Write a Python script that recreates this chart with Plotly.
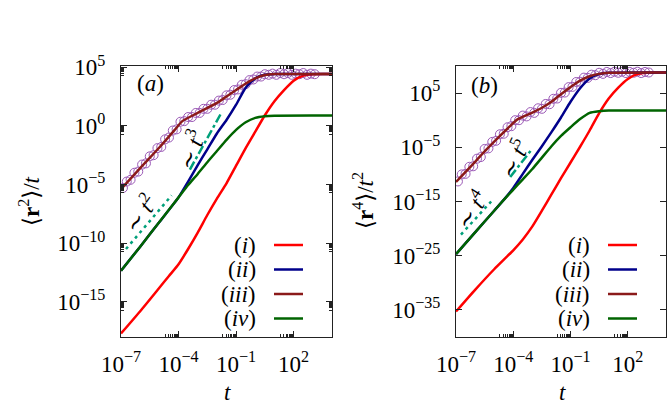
import plotly.graph_objects as go

# values are log10 exponents: t and the plotted moment
# panel (a): <r^2>/t
a_red_lt = [-7, -6, -5, -4.5, -4, -3.5, -3, -2.5, -2, -1.5, -1, -0.5, 0, 0.5, 1, 1.5, 2, 2.5, 3, 4]
a_red_ly = [-17.7, -15.8, -13.8, -12.8, -11.8, -10.5, -9.1, -7.6, -6.2, -4.9, -3.4, -1.9, -0.5, 0.9, 2.1, 3.05, 3.85, 4.28, 4.4, 4.41]
a_blue_lt = [-7, -6, -5, -4, -3.5, -3, -2.5, -2, -1.5, -1, -0.5, 0, 0.5, 1, 4]
a_blue_ly = [-12.35, -10.3, -8.2, -6.1, -4.75, -3.35, -2.0, -0.65, 0.5, 1.8, 3.25, 4.05, 4.35, 4.41, 4.41]
a_maroon_lt = [-7, -6, -5, -4.2, -3.8, -3, -2, -1.5, -1, -0.5, 0, 0.5, 1, 4]
a_maroon_ly = [-5.4, -3.6, -1.85, -0.35, 0.4, 1.1, 1.95, 2.5, 3.05, 3.6, 4.05, 4.33, 4.41, 4.41]
a_green_lt = [-7, -6, -5, -4, -3.5, -3, -2.5, -2, -1.5, -1, -0.5, 0, 0.5, 1, 4]
a_green_ly = [-12.35, -10.3, -8.2, -6.1, -5.05, -4.1, -3.1, -2.15, -1.2, -0.35, 0.3, 0.68, 0.82, 0.86, 0.87]

sim_lt = [-6.9, -6.7, -6.5, -6.3, -6.1, -5.9, -5.7, -5.5, -5.3, -5.1, -4.9, -4.7, -4.5, -4.3, -4.1,
          -3.9, -3.7, -3.5, -3.3, -3.1, -2.9, -2.7, -2.5, -2.3, -2.1, -1.9, -1.7, -1.5, -1.3, -1.1,
          -0.9, -0.7, -0.5, -0.3, -0.1, 0.1, 0.3, 0.5, 0.7, 0.9, 1.1, 1.3, 1.5, 1.7, 1.9, 2.1, 2.3,
          2.5, 2.7, 2.9, 3.1]
a_sim_ly = [-5.3, -4.75, -4.6, -4.0, -3.9, -3.3, -3.2, -2.6, -2.5, -1.9, -1.8, -1.15, -1.0, -0.4, -0.3,
            0.35, 0.4, 0.75, 0.75, 1.1, 1.1, 1.45, 1.45, 1.8, 1.8, 2.15, 2.2, 2.6, 2.65, 3.05,
            3.1, 3.5, 3.55, 3.9, 3.95, 4.2, 4.2, 4.4, 4.35, 4.45, 4.35, 4.5, 4.4, 4.5, 4.35, 4.45, 4.4,
            4.5, 4.35, 4.45, 4.4]

a_t2_lt, a_t2_ly = [-6.74, -4.36], [-10.5, -5.93]
a_t3_lt, a_t3_ly = [-3.41, -1.74], [-3.73, 1.19]

# panel (b): <r^4>/t^2
b_red_lt = [-7, -6, -5, -4, -3.5, -3, -2.5, -2, -1.5, -1, -0.5, 0, 0.5, 1, 1.5, 2, 2.5, 3, 4]
b_red_ly = [-35.3, -31.3, -27.5, -24.0, -22.0, -19.6, -16.7, -13.7, -10.7, -7.8, -4.9, -1.9, 1.3, 4.0, 6.0, 7.6, 8.5, 8.75, 8.8]
b_blue_lt = [-7, -6, -5, -4.5, -4, -3.5, -3, -2.5, -2, -1.5, -1, -0.5, 0, 0.5, 1, 4]
b_blue_ly = [-24.7, -20.7, -16.7, -14.7, -12.5, -9.9, -7.3, -4.8, -2.2, 0.5, 3.4, 5.9, 7.7, 8.5, 8.75, 8.8]
b_maroon_lt = [-7, -6, -5.5, -5, -4.2, -3.8, -3, -2.5, -2, -1.5, -1, -0.5, 0, 0.5, 1, 4]
b_maroon_ly = [-11.4, -7.7, -5.75, -3.95, -1.2, 0.1, 1.4, 2.3, 3.4, 4.8, 6.1, 7.3, 8.1, 8.55, 8.75, 8.8]
b_green_lt = [-7, -6, -5, -4.5, -4, -3.5, -3, -2.5, -2, -1.5, -1, -0.5, 0, 0.5, 1, 4]
b_green_ly = [-24.7, -20.7, -16.7, -14.7, -12.8, -10.9, -9.0, -6.9, -4.8, -2.9, -1.3, 0.2, 1.35, 1.65, 1.78, 1.8]

b_sim_ly = [-11.3, -10.0, -9.9, -8.6, -8.5, -7.1, -6.8, -5.3, -5.2, -4.0, -3.8, -2.6, -2.5, -1.3, -1.1,
            0.0, 0.0, 0.85, 0.7, 1.5, 1.35, 2.2, 2.1, 3.0, 2.95, 3.95, 4.0, 5.05, 5.1, 6.1,
            6.15, 7.05, 7.1, 7.85, 7.8, 8.4, 8.3, 8.75, 8.55, 8.9, 8.7, 8.95, 8.75, 8.95, 8.7, 8.9, 8.75,
            8.95, 8.7, 8.9, 8.8]

b_t4_lt, b_t4_ly = [-6.74, -5.16], [-21.1, -15.0]
b_t5_lt, b_t5_ly = [-4.16, -3.0], [-10.47, -5.24]

labels = ["(<i>i</i>)", "(<i>ii</i>)", "(<i>iii</i>)", "(<i>iv</i>)"]
colors = ["#ff0000", "#00008b", "#8b1a1a", "#006400"]
guide_color = "#00a07a"
sim_color = "#9b59b6"
FONT = "Liberation Serif, DejaVu Serif, serif"
W, H = 672, 416


def p(v):
    return [10 ** x for x in v]


def fx(px):
    return px / W


def fy(py):
    return 1 - py / H


fig = go.Figure()

panels = [
    ("x", "y", [(a_red_lt, a_red_ly), (a_blue_lt, a_blue_ly), (a_maroon_lt, a_maroon_ly), (a_green_lt, a_green_ly)],
     a_sim_ly, [(a_t2_lt, a_t2_ly, "dot"), (a_t3_lt, a_t3_ly, "dashdot")]),
    ("x2", "y2", [(b_red_lt, b_red_ly), (b_blue_lt, b_blue_ly), (b_maroon_lt, b_maroon_ly), (b_green_lt, b_green_ly)],
     b_sim_ly, [(b_t4_lt, b_t4_ly, "dot"), (b_t5_lt, b_t5_ly, "dashdot")]),
]

for xa, ya, curves, sim_ly, guides in panels:
    fig.add_trace(go.Scatter(x=p(sim_lt), y=p(sim_ly), xaxis=xa, yaxis=ya, mode="markers",
                             marker=dict(symbol="circle-open", size=9, color=sim_color, line=dict(width=1)),
                             showlegend=False))
    for (lt, ly), c in zip(curves, colors):
        fig.add_trace(go.Scatter(x=p(lt), y=p(ly), xaxis=xa, yaxis=ya, mode="lines",
                                 line=dict(color=c, width=2.5, shape="spline", smoothing=0.6),
                                 showlegend=False))
    for lt, ly, dash in guides:
        fig.add_trace(go.Scatter(x=p(lt), y=p(ly), xaxis=xa, yaxis=ya, mode="lines",
                                 line=dict(color=guide_color, width=2.5,
                                           dash="3px,4px" if dash == "dot" else "9px,3px,3px,3px"),
                                 showlegend=False))

xt = [-7, -4, -1, 2]
xminor = [k * 10 ** (m - 1) for m in xt + [5] for k in range(2, 10) if m - 1 >= -7 and k * 10 ** (m - 1) <= 1e4]
ya_t = [5, 0, -5, -10, -15]
yminor = [k * 10 ** (m - 1) for m in ya_t for k in range(2, 10)]
yb_t = [5, -5, -15, -25, -35]


def sup(e):
    return "10<sup>%s</sup>" % str(e).replace("-", "−")


common = dict(type="log", showline=True, linecolor="#222", linewidth=1, mirror="ticks",
              ticks="inside", ticklen=6, tickcolor="#222", showgrid=False, zeroline=False,
              tickfont=dict(family=FONT, size=23, color="black"), automargin=False)

fig.update_layout(
    width=W, height=H, margin=dict(l=0, r=0, t=0, b=0),
    paper_bgcolor="white", plot_bgcolor="white", showlegend=False,
    xaxis=dict(common, domain=[fx(121), fx(332)], range=[-7, 4], anchor="y",
               tickvals=p(xt), ticktext=[sup(v) for v in xt], ticklabelstandoff=6,
               minor=dict(tickvals=xminor, ticks="inside", ticklen=3, tickcolor="#222")),
    yaxis=dict(common, domain=[fy(337), fy(66)], range=[-18, 5.1], anchor="x",
               tickvals=p(ya_t), ticktext=[sup(v) for v in ya_t], ticklabelstandoff=10,
               minor=dict(tickvals=yminor, ticks="inside", ticklen=3, tickcolor="#222")),
    xaxis2=dict(common, domain=[fx(456), fx(666)], range=[-7, 4], anchor="y2",
                tickvals=p(xt), ticktext=[sup(v) for v in xt], ticklabelstandoff=6,
                minor=dict(tickvals=xminor, ticks="inside", ticklen=3, tickcolor="#222")),
    yaxis2=dict(common, domain=[fy(337), fy(66)], range=[-40, 10], anchor="x2",
                tickvals=p(yb_t), ticktext=[sup(v) for v in yb_t], ticklabelstandoff=10),
)

ann = []
shapes = []
f = dict(family=FONT, size=23, color="black")
# axis titles and panel tags
ann.append(dict(x=fx(30), y=fy(201), text="⟨<b>r</b><sup>2</sup>⟩/<i>t</i>", textangle=-90))
ann.append(dict(x=fx(364), y=fy(201), text="⟨<b>r</b><sup>4</sup>⟩/<i>t</i><sup>2</sup>", textangle=-90))
ann.append(dict(x=fx(227), y=fy(392), text="<i>t</i>"))
ann.append(dict(x=fx(562), y=fy(392), text="<i>t</i>"))
ann.append(dict(x=fx(150), y=fy(83), text="(<i>a</i>)"))
ann.append(dict(x=fx(484), y=fy(85), text="(<i>b</i>)"))
# power-law guide labels
ann.append(dict(x=fx(140), y=fy(214), text="∼ <i>t</i><sup>2</sup>", textangle=-55))
ann.append(dict(x=fx(190), y=fy(150), text="∼ <i>t</i><sup>3</sup>", textangle=-70))
ann.append(dict(x=fx(471), y=fy(209), text="∼ <i>t</i><sup>4</sup>", textangle=-57))
ann.append(dict(x=fx(513), y=fy(159), text="∼ <i>t</i><sup>5</sup>", textangle=-65))

rows = [245, 269.5, 294, 318.5]
for tx, l0, l1 in [(258, 274, 303), (592, 608, 637)]:
    for lab, c, ry in zip(labels, colors, rows):
        ann.append(dict(x=fx(tx), y=fy(ry), text=lab, xanchor="right"))
        shapes.append(dict(type="line", xref="paper", yref="paper", x0=fx(l0), x1=fx(l1),
                           y0=fy(ry), y1=fy(ry), line=dict(color=c, width=2.5)))

for a in ann:
    a.setdefault("xanchor", "center")
    a.update(xref="paper", yref="paper", yanchor="middle", showarrow=False, font=f)

fig.update_layout(annotations=ann, shapes=shapes)

# drop the browser's default body margin so the figure fills the window
fig.write_html("out.html", config={"displayModeBar": False},
               post_script="document.body.style.margin='0';document.body.style.overflow='hidden';")
